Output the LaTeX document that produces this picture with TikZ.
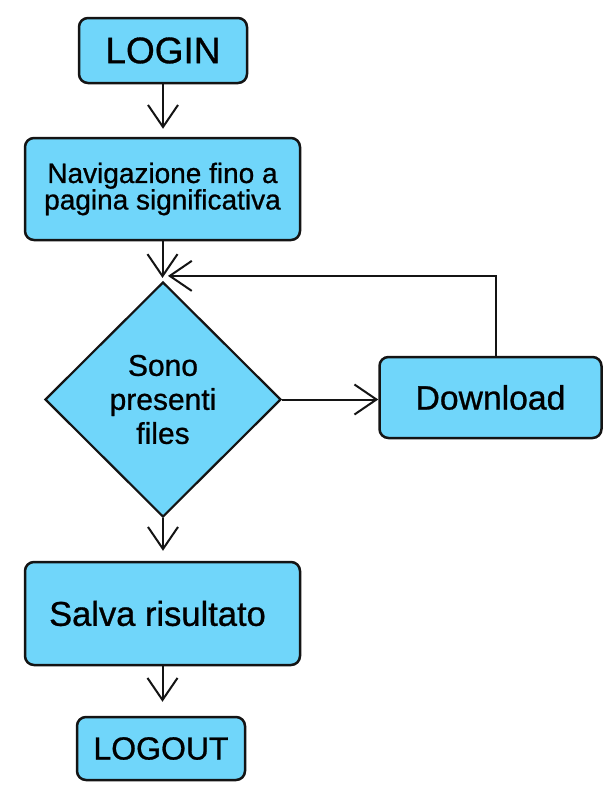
\documentclass[tikz,border=0pt]{standalone}
\usepackage{fontspec}
\setmainfont[FakeBold=0.8]{Liberation Sans}
\usetikzlibrary{arrows.meta,shapes.geometric}
\definecolor{boxblue}{RGB}{112,214,250}
\definecolor{edge}{RGB}{20,20,20}
\begin{document}
\begin{tikzpicture}[x=1pt,y=-1pt,
  stepbox/.style={draw=edge, line width=2.5pt, fill=boxblue, rounded corners=9pt,
                  inner sep=0pt, align=center},
  decision/.style={diamond, draw=edge, line width=2.2pt, fill=boxblue,
                   inner sep=0pt, align=center},
  flow/.style={draw=edge, line width=2pt,
               -{Straight Barb[length=22pt,width=30pt,line width=2pt]}}]
\useasboundingbox[fill=white] (0,0) rectangle (611,790);

% process steps
\node[stepbox, minimum width=168pt, minimum height=65pt,
      font=\fontsize{37}{37}\selectfont] (login) at (163,50.5) {LOGIN};
\node[stepbox, minimum width=275pt, minimum height=102pt,
      font=\fontsize{28}{26.5}\selectfont] (nav) at (162.5,189)
      {Navigazione fino a\\pagina significativa};
\node[decision, minimum width=236pt, minimum height=235pt,
      font=\fontsize{30}{34}\selectfont] (dec) at (163,399.5)
      {Sono\\presenti\\files};
\node[stepbox, minimum width=222pt, minimum height=81pt,
      font=\fontsize{33.7}{34}\selectfont] (down) at (490.5,397.5) {Download};
\node[stepbox, minimum width=275pt, minimum height=103pt,
      font=\fontsize{34.5}{35}\selectfont] (save) at (162.5,613.5)
      {\hspace*{-10pt}Salva risultato};
\node[stepbox, minimum width=168pt, minimum height=63pt,
      font=\fontsize{32}{32}\selectfont] (logout) at (161,748.5) {LOGOUT};

% connectors
\draw[flow, shorten >=8pt] (login.south) -- (login.south |- nav.north);
\draw[flow, shorten >=3pt] (nav.south) -- (nav.south |- dec.north);
\draw[flow] (dec.east) -- (dec.east -| down.west);
\draw[flow] ([xshift=5.5pt]down.north) |- ([xshift=5pt,yshift=5pt]dec.north);
\draw[flow, shorten >=10pt] (dec.south) -- (dec.south |- save.north);
\draw[flow, shorten >=14pt] (save.south) -- (save.south |- logout.north);
\end{tikzpicture}
\end{document}
